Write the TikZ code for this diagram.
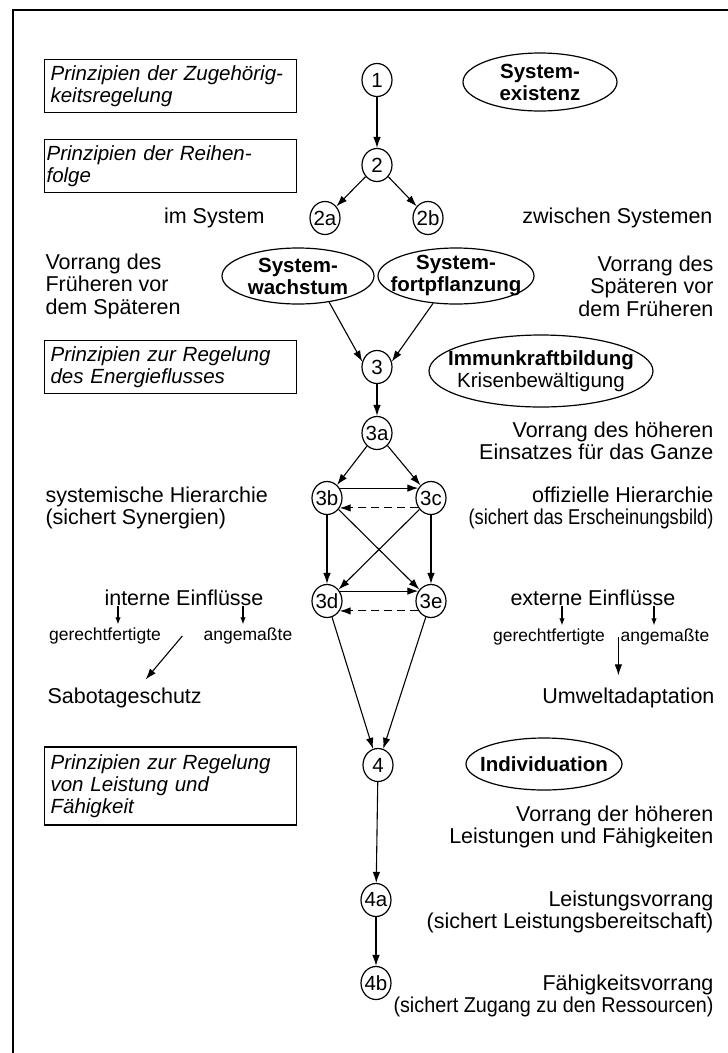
\documentclass[tikz,border=0pt]{standalone}
\usepackage{fontspec}
\setmainfont{Liberation Sans}
\usepackage{graphicx}
\usetikzlibrary{arrows.meta,shapes.geometric,calc}
\newcommand{\squeeze}[2]{\scalebox{#1}[1]{#2}}

\begin{document}
\begin{tikzpicture}[x=1pt,y=-1pt,line width=1.1pt,
        >={Latex[length=11pt,width=7.5pt]},
        every node/.style={inner sep=0pt,font=\fontsize{21.5}{22.5}\selectfont},
        num/.style={ellipse,draw,line width=1.2pt,minimum width=30pt,minimum height=33pt,inner sep=-2pt,
            font=\fontsize{20.5}{21}\selectfont},
        goal/.style={ellipse,draw,line width=1.2pt,align=center,inner xsep=-30pt,inner ysep=-4pt,
            font=\fontsize{20.5}{22}\selectfont\bfseries},
        prin/.style={draw,line width=1.2pt,anchor=west,align=left,text width=240pt,inner xsep=6pt,
            minimum height=53pt,font=\fontsize{20.5}{22}\selectfont\itshape},
        note/.style={align=right,anchor=east},
        lnote/.style={align=left,anchor=west},
        small/.style={font=\fontsize{17.5}{20}\selectfont},
        sarr/.style={-{Latex[length=7pt,width=5.5pt]}},
        back/.style={->,dash pattern=on 8pt off 5pt}]
\useasboundingbox (0,0) rectangle (728,1053);
\draw[line width=1.3pt] (13,1053) -- (13,10) -- (728,10);

\node[prin] (pA) at (44,86) {Prinzipien der Zugehörig-\\keitsregelung};
\node[prin,inner xsep=2pt,text width=248pt] (pB) at (44,166) {Prinzipien der Reihen-\\folge};
\node[prin] (pC) at (44,367) {Prinzipien zur Regelung\\des Energieflusses};
\node[prin,minimum height=78pt] (pD) at (44,786) {Prinzipien zur Regelung\\von Leistung und\\Fähigkeit};

\node[num] (n1) at (377,80) {1};
\node[num] (n2) at (377,165) {2};
\node[num] (n2a) at (325,218) {2a};
\node[num] (n2b) at (428,218) {2b};
\node[num] (n3) at (377,367) {3};
\node[num] (n3a) at (377,433) {3a};
\node[num] (n3b) at (327,498) {3b};
\node[num] (n3c) at (431,498) {3c};
\node[num] (n3d) at (327,601) {3d};
\node[num] (n3e) at (431,601) {3e};
\node[num] (n4) at (378,765) {4};
\node[num] (n4a) at (376,900) {4a};
\node[num] (n4b) at (376,983) {4b};

\node[goal,minimum width=154pt,minimum height=58pt] (exist) at (540,82) {System-\\existenz};
\node[goal,minimum width=152pt,minimum height=56pt] (wachs) at (298,276) {System-\\wachstum};
\node[goal,minimum width=156pt,minimum height=56pt] (fort) at (456,276) {System-\\fortpflanzung};
\node[goal,minimum width=224pt,minimum height=72pt] (immun) at (541,371) {Immunkraftbildung\\\mdseries Krisenbewältigung};
\node[goal,minimum width=156pt,minimum height=52pt] (indiv) at (544,764) {Individuation};

\node[note] (imsys) at (265,218) {im System};
\node[note] (zwsys) at (713,218) {zwischen Systemen};
\node[lnote] (vfrueh) at (45,286) {Vorrang des\\Früheren vor\\dem Späteren};
\node[note] (vspaet) at (714,286) {Vorrang des\\Späteren vor\\dem Früheren};
\node[note] (vhoeh) at (714,441) {Vorrang des höheren\\Einsatzes für das Ganze};
\node[lnote] (syshier) at (45,508) {systemische Hierarchie\\(sichert Synergien)};
\node[note] (offhier) at (714,508) {offizielle Hierarchie\\\squeeze{0.85}{(sichert das Erscheinungsbild)}};
\node (intern) at (184,598) {interne Einflüsse};
\node (extern) at (593,598) {externe Einflüsse};
\node[small] (gerL) at (105,636) {gerechtfertigte};
\node[small] (angL) at (248,636) {angemaßte};
\node[small] (gerR) at (549,637) {gerechtfertigte};
\node[small] (angR) at (665,637) {angemaßte};
\node[lnote] (sabo) at (47,698) {Sabotageschutz};
\node[note] (umwelt) at (715,698) {Umweltadaptation};
\node[note] (vleist) at (714,827) {Vorrang der höheren\\Leistungen und Fähigkeiten};
\node[note] (lvor) at (714,912) {Leistungsvorrang\\(sichert Leistungsbereitschaft)};
\node[note] (fvor) at (714,996) {Fähigkeitsvorrang\\\squeeze{0.92}{(sichert Zugang zu den Ressourcen)}};

\draw[->] (n1) -- (n2);
\draw[->] (n2) -- (n2a);
\draw[->] (n2) -- (n2b);
\draw[->] (wachs.-40) -- (n3.160);
\draw[->] (fort.-130) -- (n3.20);
\draw[->] (n3) -- (n3a);
\draw[->] (n3a) -- (n3b);
\draw[->] (n3a) -- (n3c);
\draw[->] (n3b.38) -- (n3c.142);
\draw[back] (n3c.-142) -- (n3b.-38);
\draw[->] (n3b) -- (n3d);
\draw[->] (n3c) -- (n3e);
\draw[->] (n3b) -- (n3e);
\draw[->] (n3c) -- (n3d);
\draw[->] (n3d.38) -- (n3e.142);
\draw[back] (n3e.-142) -- (n3d.-38);
\draw[->] (n3d) -- (n4);
\draw[->] (n3e) -- (n4);
\draw[->] (n4) -- (n4a);
\draw[->] (n4a) -- (n4b);

\coordinate (kL1) at ($(gerL.north)+(13,-3)$);
\coordinate (kL2) at ($(angL.north)+(-5,-3)$);
\coordinate (kR1) at ($(gerR.north)+(13,-3)$);
\coordinate (kR2) at ($(angR.north)+(-11,-3)$);
\draw[sarr] (kL1 |- intern.south) -- (kL1);
\draw[sarr] (kL2 |- intern.south) -- (kL2);
\draw[sarr] (kR1 |- extern.south) -- (kR1);
\draw[sarr] (kR2 |- extern.south) -- (kR2);

\coordinate (sabTop) at ($(gerL.east)!.5!(angL.west)$);
\draw[->] (sabTop) -- ($(sabo.north)+(21,-8)$);
\coordinate (umTop) at ($(umwelt.north)+(-10,-12)$);
\draw[->] (umTop |- gerR.east) -- (umTop);
\end{tikzpicture}
\end{document}
